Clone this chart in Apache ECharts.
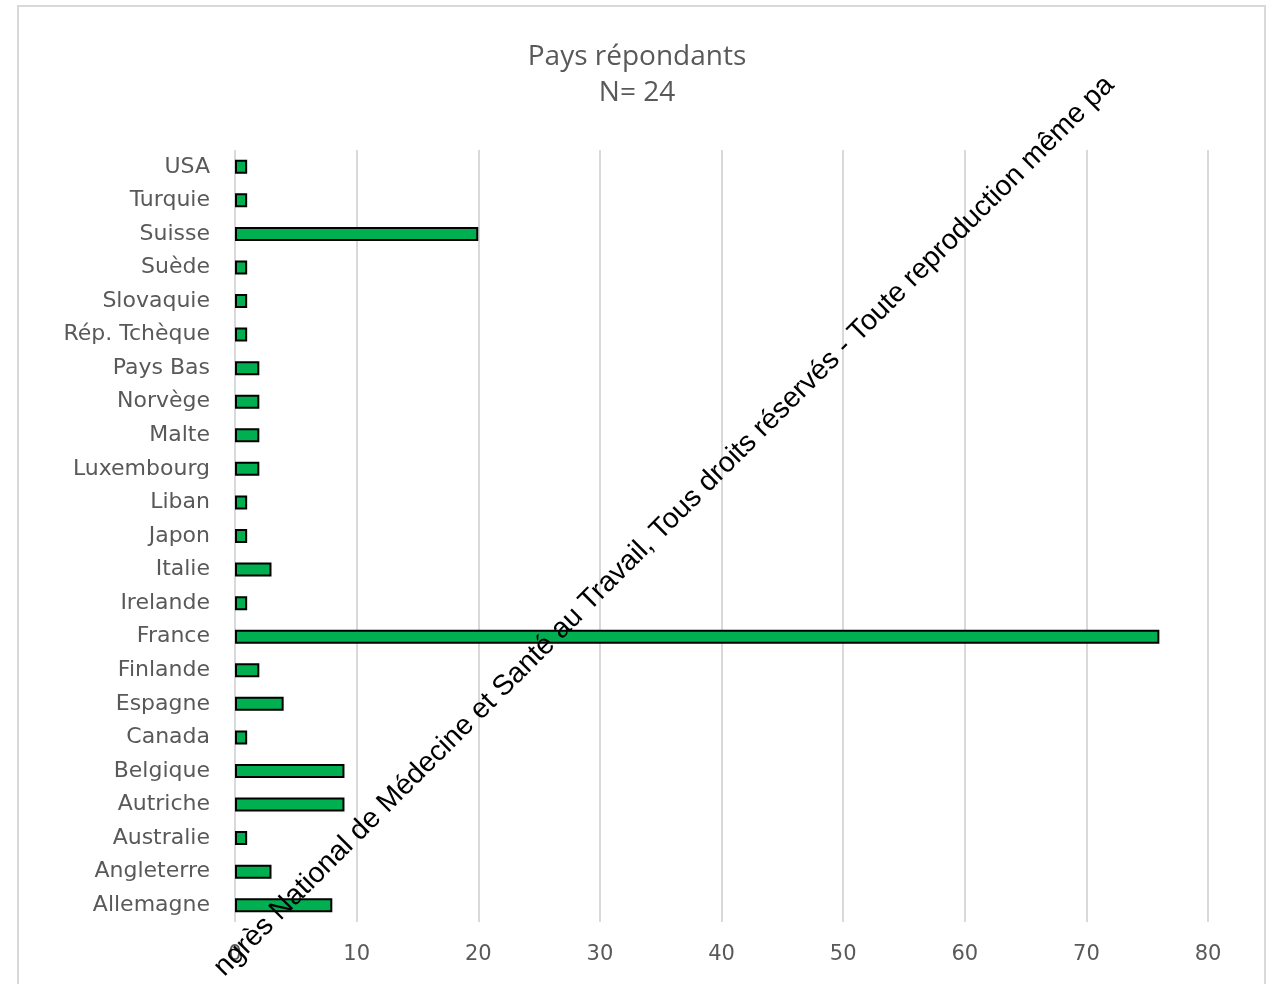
<!DOCTYPE html>
<html>
<head>
<meta charset="utf-8">
<script src="https://cdn.jsdelivr.net/npm/echarts@6/dist/echarts.min.js"></script>
<style>
html,body{margin:0;padding:0;background:#fff;}
#chart{width:1274px;height:984px;}
</style>
</head>
<body>
<div id="chart"></div>
<script>
const categories = ['Allemagne','Angleterre','Australie','Autriche','Belgique','Canada','Espagne','Finlande','France','Irelande','Italie','Japon','Liban','Luxembourg','Malte','Norvège','Pays Bas','Rép. Tchèque','Slovaquie','Suède','Suisse','Turquie','USA'];
const values = [8,3,1,9,9,1,4,2,76,1,3,1,1,2,2,2,2,1,1,1,20,1,1];
const xTicks = [0,10,20,30,40,50,60,70,80];
const titleText = 'Pays répondants';
const subtitleText = 'N= 24';
const watermarkText = 'ngrès National de Médecine et Santé au Travail, Tous droits réservés - Toute reproduction même pa';

const chart = echarts.init(document.getElementById('chart'));
chart.setOption({
  animation: false,
  backgroundColor: '#ffffff',
  title: {
    text: titleText + '\n' + subtitleText,
    left: 'center',
    top: 34,
    textStyle: {
      fontFamily: 'Open Sans',
      fontSize: 28,
      fontWeight: 'normal',
      color: '#595959',
      lineHeight: 36
    }
  },
  grid: { left: 235, right: 66, top: 150, bottom: 62, containLabel: false },
  xAxis: {
    type: 'value',
    min: xTicks[0],
    max: xTicks[xTicks.length - 1],
    interval: 10,
    axisLine: { show: false },
    axisTick: { show: false },
    splitLine: { show: true, lineStyle: { color: '#d9d9d9', width: 2 } },
    axisLabel: { fontFamily: 'DejaVu Sans', fontSize: 21, color: '#595959', margin: 22 }
  },
  yAxis: {
    type: 'category',
    data: categories,
    axisLine: { show: false },
    axisTick: { show: false },
    axisLabel: { fontFamily: 'DejaVu Sans', fontSize: 22, color: '#595959', margin: 25 }
  },
  series: [{
    type: 'bar',
    data: values,
    barWidth: 14,
    itemStyle: { color: '#00b050', borderColor: '#000000', borderWidth: 2 }
  }],
  graphic: [
    {
      type: 'rect',
      shape: { x: 18, y: 6, width: 1247, height: 1000 },
      style: { fill: 'none', stroke: '#d9d9d9', lineWidth: 2 },
      silent: true
    },
    {
      type: 'text',
      x: 229, y: 982,
      rotation: Math.PI / 4,
      style: {
        text: watermarkText,
        fontFamily: 'Liberation Sans',
        fontSize: 28.5,
        fill: '#000000',
        align: 'left',
        verticalAlign: 'bottom'
      },
      z: 100,
      silent: true
    }
  ]
});
</script>
</body>
</html>
